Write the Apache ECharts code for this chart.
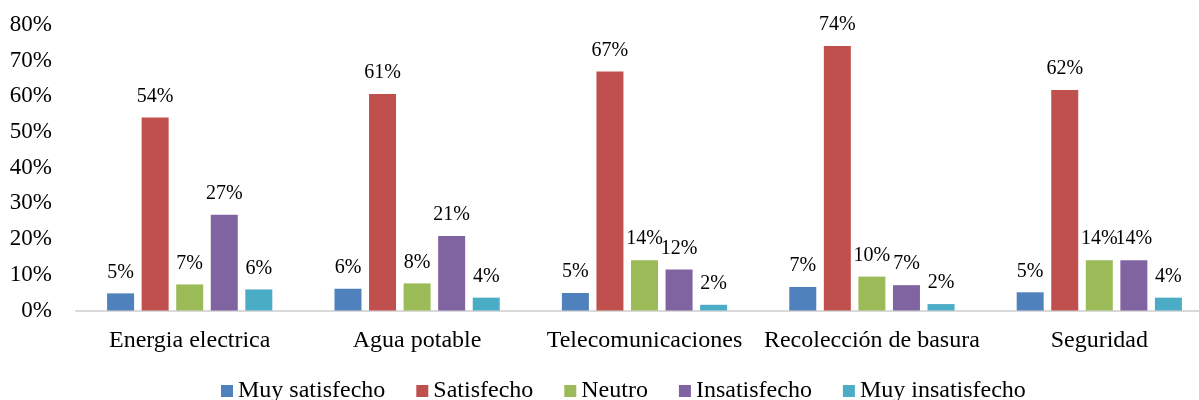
<!DOCTYPE html>
<html>
<head>
<meta charset="utf-8">
<script src="https://cdn.jsdelivr.net/npm/echarts@6/dist/echarts.min.js"></script>
<style>
  html, body { margin: 0; padding: 0; background: #fff; }
  #chart { width: 1199px; height: 400px; }
</style>
</head>
<body>
<div id="chart"></div>
<script>
// categorias del eje x
var categorias = ['Energia electrica', 'Agua potable', 'Telecomunicaciones', 'Recolección de basura', 'Seguridad'];
// valores en % por serie
var muySatisfecho = [4.8, 6.1, 4.9, 6.6, 5.1];
var satisfecho = [54.1, 60.7, 67.0, 74.1, 61.8];
var neutro = [7.3, 7.6, 14.1, 9.5, 14.1];
var insatisfecho = [26.8, 20.9, 11.5, 7.1, 14.1];
var muyInsatisfecho = [5.9, 3.6, 1.6, 1.8, 3.6];

var fuente = '"Liberation Serif", "Times New Roman", serif';

function serie(nombre, datos, color) {
    return {
        name: nombre,
        type: 'bar',
        data: datos,
        barWidth: 27,
        barGap: '28%',
        itemStyle: { color: color },
        label: {
            show: true,
            position: 'top',
            distance: 11,
            color: '#000',
            fontFamily: fuente,
            fontSize: 20,
            formatter: function (p) { return Math.round(p.value) + '%'; }
        }
    };
}

var chart = echarts.init(document.getElementById('chart'));
chart.setOption({
    animation: false,
    grid: {
        left: 76,
        top: 25,
        width: 1137,
        height: 285.5,
        outerBoundsMode: 'none'
    },
    legend: {
        left: 221,
        top: 379,
        padding: 0,
        itemWidth: 12,
        itemHeight: 12,
        itemGap: 31,
        icon: 'rect',
        textStyle: { fontFamily: fuente, fontSize: 24, color: '#000' },
        data: ['Muy satisfecho', 'Satisfecho', 'Neutro', 'Insatisfecho', 'Muy insatisfecho']
    },
    xAxis: {
        type: 'category',
        data: categorias,
        axisLine: { lineStyle: { color: '#D9D9D9', width: 2 } },
        axisTick: { show: false },
        axisLabel: {
            margin: 18,
            color: '#000',
            fontFamily: fuente,
            fontSize: 24,
            interval: 0
        }
    },
    yAxis: {
        type: 'value',
        min: 0,
        max: 80,
        interval: 10,
        axisLine: { show: false },
        axisTick: { show: false },
        splitLine: { show: false },
        axisLabel: {
            margin: 24,
            color: '#000',
            fontFamily: fuente,
            fontSize: 23,
            padding: [5, 0, 0, 0],
            formatter: '{value}%'
        }
    },
    series: [
        serie('Muy satisfecho', muySatisfecho, '#4F81BD'),
        serie('Satisfecho', satisfecho, '#C0504D'),
        serie('Neutro', neutro, '#9BBB59'),
        serie('Insatisfecho', insatisfecho, '#8064A2'),
        serie('Muy insatisfecho', muyInsatisfecho, '#4BACC6')
    ]
});
</script>
</body>
</html>
